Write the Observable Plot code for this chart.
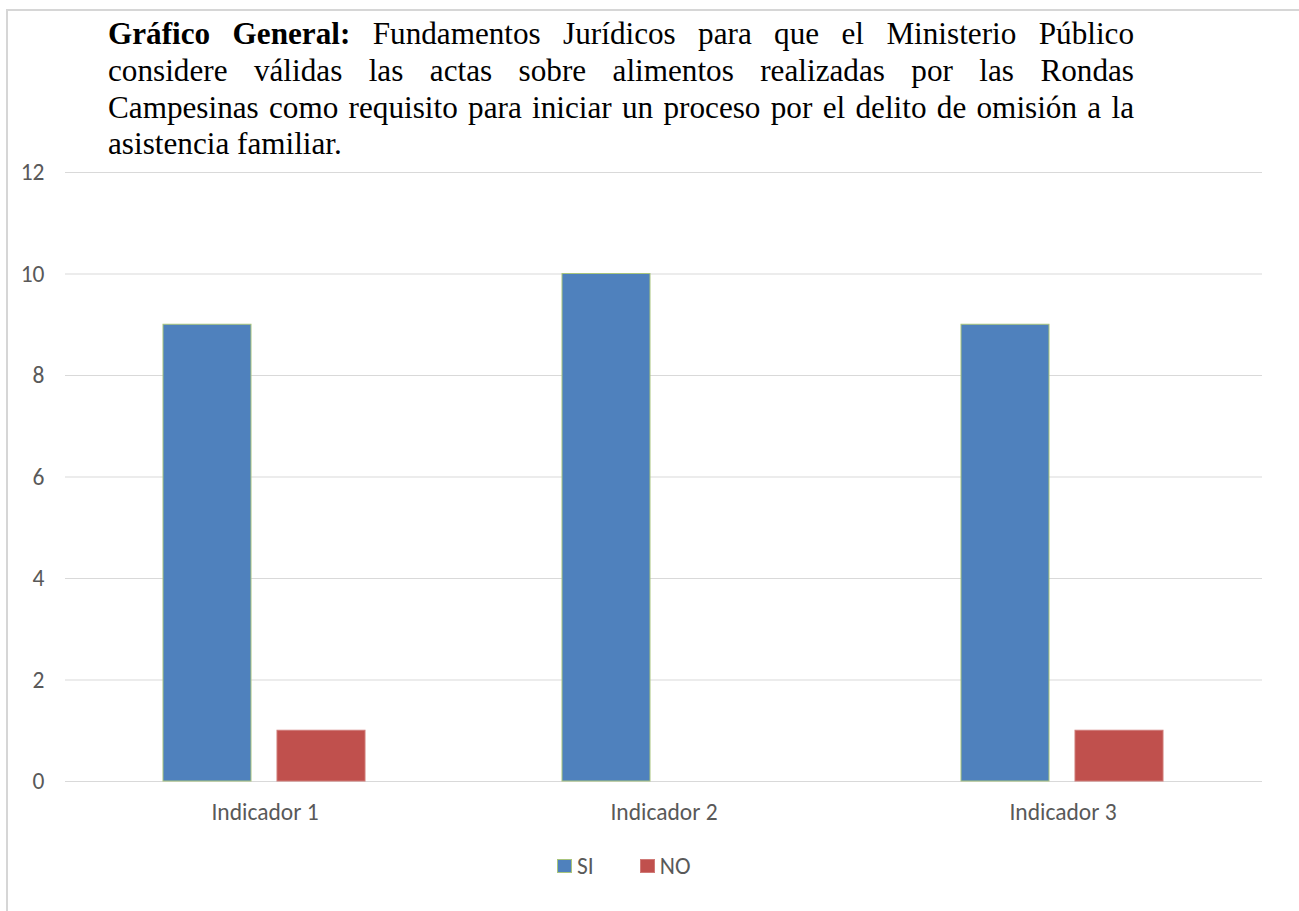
<!DOCTYPE html>
<html>
<head>
<meta charset="utf-8">
<script src="https://cdn.jsdelivr.net/npm/d3@7"></script>
<script src="https://cdn.jsdelivr.net/npm/@observablehq/plot@0.6"></script>
<style>
  html, body { margin: 0; padding: 0; background: #fff; }
  #page { position: relative; width: 1299px; height: 911px; overflow: hidden; background: #fff; }
  #frame { position: absolute; left: 6px; top: 9px; right: -10px; bottom: -10px; border-top: 2px solid #d6d6d6; border-left: 2px solid #d6d6d6; }
  #title { position: absolute; left: 108px; top: 16.2px; width: 1026px; font-family: "Liberation Serif", "Times New Roman", serif; font-size: 31.2px; line-height: 36.7px; color: #000; }
  #title .ln { display: block; text-align: justify; text-align-last: justify; }
  #title .ln.last { text-align: left; text-align-last: left; }
  #chart { position: absolute; left: 0; top: 150px; }
  #legend { position: absolute; top: 852px; left: 557px; display: flex; align-items: center; font-family: Carlito, Calibri, "Open Sans", sans-serif; font-size: 23.5px; line-height: 28px; color: #595959; }
  .sw { width: 15px; height: 14px; box-sizing: border-box; display: inline-block; margin-right: 5px; }
  .item { display: flex; align-items: center; margin-right: 46px; }
</style>
</head>
<body>
<div id="page">
  <div id="frame"></div>
  <div id="title"></div>
  <div id="chart"></div>
  <div id="legend"></div>
</div>
<script>
const titleBold = "Gráfico General:";
const titleLines = [
  " Fundamentos Jurídicos para que el Ministerio Público",
  "considere válidas las actas sobre alimentos realizadas por las Rondas",
  "Campesinas como requisito para iniciar un proceso por el delito de omisión a la",
  "asistencia familiar."
];
const categories = ["Indicador 1", "Indicador 2", "Indicador 3"];
const series = ["SI", "NO"];
const siValues = [9, 10, 9];
const noValues = [1, 0, 1];
const yTicks = [0, 2, 4, 6, 8, 10, 12];
const seriesColors = ["#4F81BD", "#C0504D"];
const seriesStrokes = ["#a8c47c", "#d07a77"];

// Title (justified lines as in the reference)
const title = document.getElementById("title");
titleLines.forEach((t, i) => {
  const ln = document.createElement("span");
  ln.className = "ln" + (i === titleLines.length - 1 ? " last" : "");
  if (i === 0) {
    const b = document.createElement("b");
    b.textContent = titleBold;
    ln.appendChild(b);
  }
  ln.appendChild(document.createTextNode(t));
  title.appendChild(ln);
});

const data = categories.flatMap((c, i) => [
  {cat: c, serie: series[0], value: siValues[i]},
  {cat: c, serie: series[1], value: noValues[i]}
]);

const chart = Plot.plot({
  width: 1299,
  height: 700,
  marginLeft: 64,
  marginRight: 37,
  marginTop: 22,
  marginBottom: 69,
  style: {fontFamily: "Carlito, Calibri, 'Open Sans', sans-serif", fontSize: "23.5px", color: "#595959", background: "transparent"},
  fx: {domain: categories, padding: 0, label: null, axis: "bottom", tickSize: 0, tickPadding: 22},
  x: {domain: series, paddingInner: 0.228, paddingOuter: 0.864, axis: null},
  y: {domain: [0, 12], ticks: yTicks, label: null, tickSize: 0, tickPadding: 21},
  color: {domain: series, range: seriesColors},
  marks: [
    Plot.gridY(yTicks, {stroke: "#d9d9d9", strokeOpacity: 1, strokeWidth: 1}),
    Plot.barY(data, {
      fx: "cat", x: "serie", y: "value", fill: "serie",
      stroke: d => seriesStrokes[series.indexOf(d.serie)], strokeWidth: 1
    })
  ]
});
document.getElementById("chart").appendChild(chart);

const legend = document.getElementById("legend");
series.forEach((s, i) => {
  const item = document.createElement("div");
  item.className = "item";
  const sw = document.createElement("span");
  sw.className = "sw";
  sw.style.background = seriesColors[i];
  sw.style.border = "1px solid " + seriesStrokes[i];
  const t = document.createElement("span");
  t.textContent = s;
  item.appendChild(sw);
  item.appendChild(t);
  legend.appendChild(item);
});
</script>
</body>
</html>
